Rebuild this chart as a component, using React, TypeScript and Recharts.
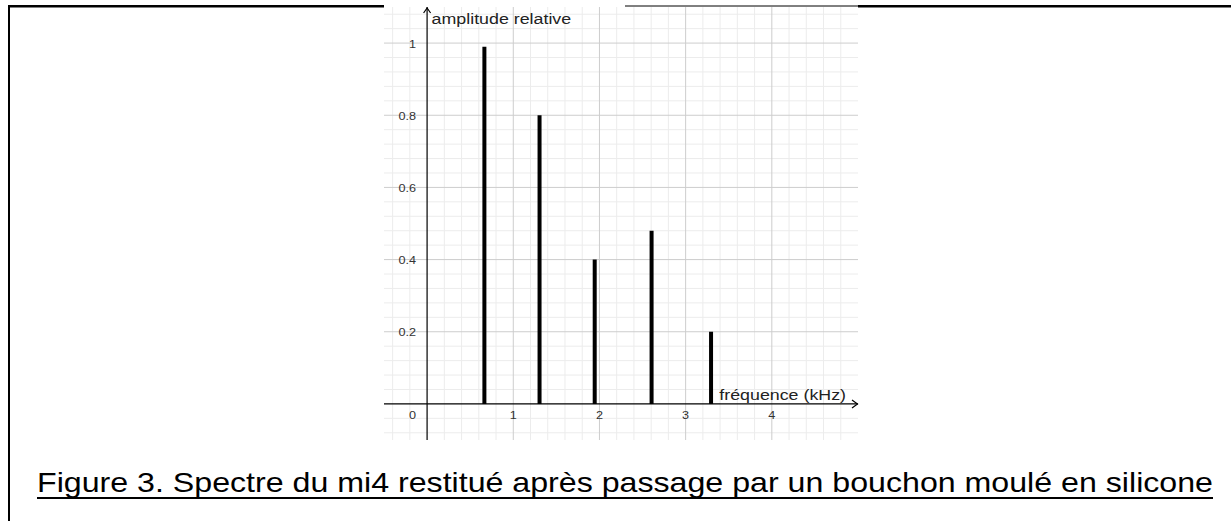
import React from 'react';
import { ComposedChart, XAxis, YAxis, Bar, ReferenceLine, ReferenceDot } from 'recharts';

// ---- data ----
const frequencies = [0.66, 1.3, 1.94, 2.6, 3.29]; // kHz
const amplitudes = [0.99, 0.8, 0.4, 0.48, 0.2];

const xTickValues = [1, 2, 3, 4];
const xTickLabels = ['1', '2', '3', '4'];
const yTickValues = [0.2, 0.4, 0.6, 0.8, 1];
const yTickLabels = ['0.2', '0.4', '0.6', '0.8', '1'];
const originLabel = '0';

const majorGridX = [1, 2, 3, 4];
const majorGridY = [0.2, 0.4, 0.6, 0.8, 1];
const minorGridX = [-0.4, -0.2, 0.2, 0.4, 0.6, 0.8, 1.2, 1.4, 1.6, 1.8, 2.2, 2.4, 2.6, 2.8, 3.2, 3.4, 3.6, 3.8, 4.2, 4.4, 4.6, 4.8];
const minorGridY = [-0.08, -0.04, 0.04, 0.08, 0.12, 0.16, 0.24, 0.28, 0.32, 0.36, 0.44, 0.48, 0.52, 0.56, 0.64, 0.68, 0.72, 0.76, 0.84, 0.88, 0.92, 0.96, 1.04, 1.08];

const xDomain = [-0.5, 5];
const yDomain = [-0.1, 1.1];

const yTitle = 'amplitude relative';
const xTitle = 'fréquence (kHz)';
const caption = 'Figure 3. Spectre du mi4 restitué après passage par un bouchon moulé en silicone';

const data = frequencies.map((f, i) => ({ f, a: amplitudes[i] }));

const FONT = '"Liberation Sans", Arial, sans-serif';
const SX = 1.15;

function StretchText(props: any) {
  const { x, y, anchor, size, fill, children } = props;
  return (
    <text
      transform={`translate(${x},${y}) scale(${SX},1)`}
      x={0}
      y={0}
      textAnchor={anchor}
      fontSize={size}
      fontFamily={FONT}
      fill={fill || '#222'}
    >
      {children}
    </text>
  );
}

export default function App() {
  return (
    <div style={{ position: 'fixed', left: 0, top: 0, width: 1231, height: 521, background: '#fff' }}>
      <svg width={1231} height={521} style={{ position: 'absolute', left: 0, top: 0 }}>
        <line x1={9} y1={5} x2={9} y2={521} stroke="#000" strokeWidth={2} />
        <line x1={8} y1={6.3} x2={384} y2={6.3} stroke="#000" strokeWidth={2.5} />
        <line x1={858} y1={6.3} x2={1231} y2={6.3} stroke="#000" strokeWidth={2.5} />
        <line x1={625} y1={6} x2={858} y2={6} stroke="#000" strokeWidth={1} />
        <text
          x={37}
          y={491.5}
          fontSize={28}
          fontFamily={FONT}
          fill="#000"
          textLength={1176}
          lengthAdjust="spacingAndGlyphs"
        >
          {caption}
        </text>
        <line x1={37} y1={498} x2={1213} y2={498} stroke="#000" strokeWidth={2} />
      </svg>
      <div style={{ position: 'absolute', left: 0, top: 0 }}>
        <ComposedChart
          width={1231}
          height={521}
          data={data}
          margin={{ top: 7, right: 373, bottom: 81, left: 384 }}
        >
          <XAxis type="number" dataKey="f" domain={xDomain} hide allowDataOverflow />
          <YAxis type="number" domain={yDomain} hide allowDataOverflow />
          {minorGridX.map((v) => (
            <ReferenceLine key={'mx' + v} x={v} stroke="#ececec" strokeWidth={1} zIndex={-100} />
          ))}
          {minorGridY.map((v) => (
            <ReferenceLine key={'my' + v} y={v} stroke="#ececec" strokeWidth={1} zIndex={-100} />
          ))}
          {majorGridX.map((v) => (
            <ReferenceLine key={'Mx' + v} x={v} stroke="#cdcdcd" strokeWidth={1} zIndex={-90} />
          ))}
          {majorGridY.map((v) => (
            <ReferenceLine key={'My' + v} y={v} stroke="#cdcdcd" strokeWidth={1} zIndex={-90} />
          ))}
          <ReferenceLine x={0} stroke="#000" strokeWidth={1.2} zIndex={-80} />
          <ReferenceLine y={0} stroke="#000" strokeWidth={1.2} zIndex={-80} />
          <Bar dataKey="a" barSize={4} fill="#000" isAnimationActive={false} />
          <ReferenceDot
            x={0}
            y={yDomain[1]}
            ifOverflow="visible"
            shape={(p: any) => (
              <g>
                <path d={`M${p.cx - 3.5},${p.cy + 6} L${p.cx},${p.cy + 1} L${p.cx + 3.5},${p.cy + 6}`} stroke="#000" strokeWidth={1.2} fill="none" />
                <StretchText x={p.cx + 4.5} y={p.cy + 16.5} anchor="start" size={15.5}>{yTitle}</StretchText>
              </g>
            )}
          />
          <ReferenceDot
            x={xDomain[1]}
            y={0}
            ifOverflow="visible"
            shape={(p: any) => (
              <g>
                <path d={`M${p.cx - 6},${p.cy - 4} L${p.cx - 0.5},${p.cy} L${p.cx - 6},${p.cy + 4}`} stroke="#000" strokeWidth={1.2} fill="none" />
                <StretchText x={p.cx - 12} y={p.cy - 3.5} anchor="end" size={15.5}>{xTitle}</StretchText>
              </g>
            )}
          />
          {yTickValues.map((v, i) => (
            <ReferenceDot
              key={'yt' + v}
              x={0}
              y={v}
              ifOverflow="visible"
              shape={(p: any) => (
                <StretchText x={p.cx - 11} y={p.cy + 4.5} anchor="end" size={11} fill="#333">{yTickLabels[i]}</StretchText>
              )}
            />
          ))}
          {xTickValues.map((v, i) => (
            <ReferenceDot
              key={'xt' + v}
              x={v}
              y={0}
              ifOverflow="visible"
              shape={(p: any) => (
                <StretchText x={p.cx} y={p.cy + 15.5} anchor="middle" size={11} fill="#333">{xTickLabels[i]}</StretchText>
              )}
            />
          ))}
          <ReferenceDot
            x={0}
            y={0}
            ifOverflow="visible"
            shape={(p: any) => (
              <StretchText x={p.cx - 11} y={p.cy + 15.5} anchor="end" size={11} fill="#333">{originLabel}</StretchText>
            )}
          />
        </ComposedChart>
      </div>
    </div>
  );
}
